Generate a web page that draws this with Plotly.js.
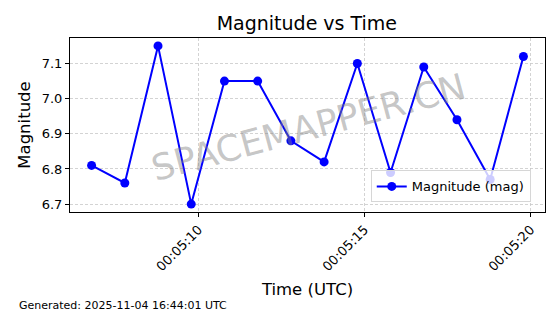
<!DOCTYPE html>
<html>
<head>
<meta charset="utf-8">
<script src="https://cdn.plot.ly/plotly-3.0.1.min.js"></script>
<style>html,body{margin:0;padding:0;background:#fff;}#chart{width:560px;height:314px;}</style>
</head>
<body>
<div id="chart"></div>
<script>
const times = [
  '2025-11-04 00:05:06.78','2025-11-04 00:05:07.78','2025-11-04 00:05:08.78','2025-11-04 00:05:09.78',
  '2025-11-04 00:05:10.78','2025-11-04 00:05:11.78','2025-11-04 00:05:12.78','2025-11-04 00:05:13.78',
  '2025-11-04 00:05:14.78','2025-11-04 00:05:15.78','2025-11-04 00:05:16.78','2025-11-04 00:05:17.78',
  '2025-11-04 00:05:18.78','2025-11-04 00:05:19.78'
];
const magnitudes = [6.81, 6.76, 7.15, 6.70, 7.05, 7.05, 6.88, 6.82, 7.10, 6.79, 7.09, 6.94, 6.77, 7.12];
const seriesName = 'Magnitude (mag)';
const titleText = 'Magnitude vs Time';
const xTitle = 'Time (UTC)';
const yTitle = 'Magnitude';
const footer = 'Generated: 2025-11-04 16:44:01 UTC';
const watermark = 'SPACEMAPPER.CN';

const font = 'DejaVu Sans, sans-serif';
const trace = {
  x: times, y: magnitudes, type: 'scatter', mode: 'lines+markers', name: seriesName,
  line: {color: '#0000ff', width: 2},
  marker: {color: '#0000ff', size: 9}
};
const plotL = 70, plotR = 545, plotT = 38, plotB = 212;
const pw = plotR - plotL, ph = plotB - plotT;
const layout = {
  width: 560, height: 314,
  margin: {l: plotL, r: 560 - plotR, t: plotT, b: 314 - plotB},
  paper_bgcolor: '#fff', plot_bgcolor: '#fff',
  font: {family: font, color: '#000', size: 13},
  title: {text: titleText, font: {size: 19, family: font}, x: 0.548, xanchor: 'center', y: 0.925, yanchor: 'middle'},
  showlegend: true,
  legend: {x: 0.97, y: 0.055, xanchor: 'right', yanchor: 'bottom', bgcolor: 'rgba(255,255,255,0.8)',
           bordercolor: '#d6d6d6', borderwidth: 1, font: {size: 13, family: font}, itemwidth: 30},
  xaxis: {
    type: 'date', range: ['2025-11-04 00:05:06.13', '2025-11-04 00:05:20.43'],
    tick0: '2025-11-04 00:05:00', dtick: 5000, tickformat: '%H:%M:%S', tickangle: -45,
    ticks: 'outside', ticklen: 4, tickcolor: '#000', showline: true, linecolor: '#000', mirror: true, linewidth: 1,
    showgrid: true, gridcolor: '#c8c8c8', griddash: '3px,2px', gridwidth: 0.8, zeroline: false,
    title: {text: xTitle, font: {size: 16.5, family: font}, standoff: 10},
    tickfont: {size: 13, family: font}
  },
  yaxis: {
    range: [6.6775, 7.1725], tickvals: [6.7, 6.8, 6.9, 7.0, 7.1], ticktext: ['6.7','6.8','6.9','7.0','7.1'],
    ticks: 'outside', ticklen: 4, tickcolor: '#000', showline: true, linecolor: '#000', mirror: true, linewidth: 1,
    showgrid: true, gridcolor: '#c8c8c8', griddash: '3px,2px', gridwidth: 0.8, zeroline: false,
    title: {text: yTitle, font: {size: 16.5, family: font}, standoff: 6},
    tickfont: {size: 13, family: font}
  },
  annotations: [
    {text: watermark, xref: 'paper', yref: 'paper', x: (308 - plotL) / pw, y: (plotB - 128) / ph, showarrow: false,
     textangle: -15, font: {size: 36, color: 'rgba(128,128,128,0.45)', family: font}},
    {text: footer, xref: 'paper', yref: 'paper', x: (17 - plotL) / pw, y: (plotB - 305) / ph, xanchor: 'left', yanchor: 'middle',
     showarrow: false, font: {size: 11, family: font}}
  ]
};
Plotly.newPlot('chart', [trace], layout, {displayModeBar: false, staticPlot: true});
</script>
</body>
</html>
